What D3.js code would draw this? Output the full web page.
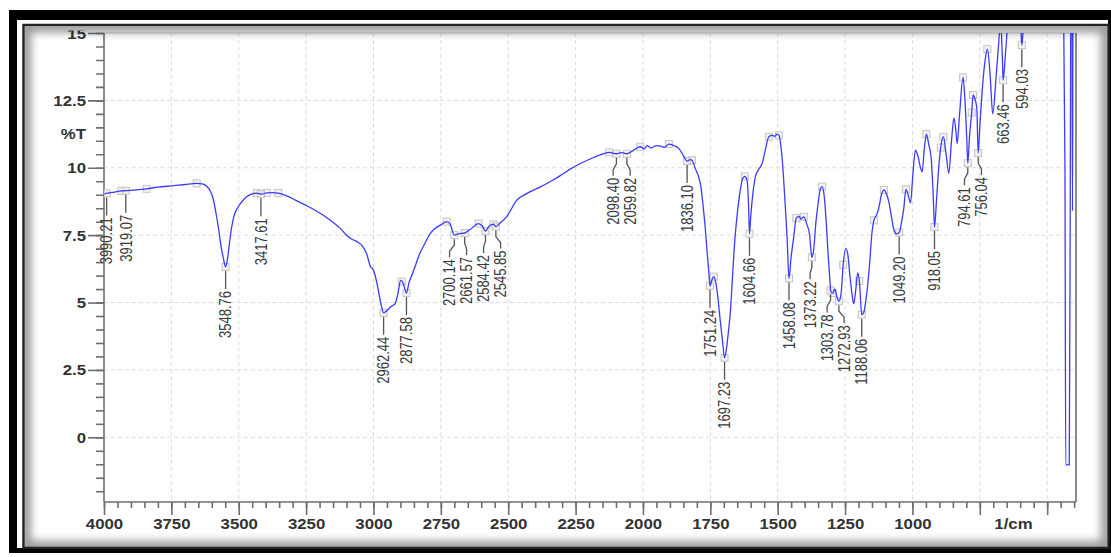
<!DOCTYPE html>
<html>
<head>
<meta charset="utf-8">
<script src="https://cdn.jsdelivr.net/npm/d3@7"></script>
<style>
  html, body { margin: 0; padding: 0; background: #fff; }
  svg { display: block; }
  text { font-family: "Liberation Sans", Arial, sans-serif; }
</style>
</head>
<body>
<svg id="chart" width="1111" height="557"></svg>
<script>
// FTIR transmittance spectrum: [wavenumber (1/cm), %T]
const spectrumPoints = [
  [3998, 9.03], [3990.21, 9.05], [3960, 9.10], [3935, 9.14], [3919.07, 9.15], [3880, 9.18],
  [3842, 9.22], [3800, 9.28], [3750, 9.33], [3700, 9.38], [3656, 9.42], [3635, 9.40],
  [3620, 9.32], [3606, 9.15], [3595, 8.85], [3585, 8.35], [3575, 7.75], [3565, 7.05],
  [3557, 6.65], [3548.76, 6.32], [3542, 6.60], [3535, 7.15], [3527, 7.75], [3518, 8.20],
  [3505, 8.50], [3490, 8.72], [3470, 8.93], [3450, 9.03], [3433, 9.06], [3417.61, 9.02],
  [3396, 9.07], [3375, 9.08], [3353, 9.06], [3320, 8.95], [3290, 8.80], [3260, 8.65],
  [3230, 8.50], [3198, 8.31], [3160, 8.05], [3124, 7.76], [3100, 7.50], [3080, 7.35],
  [3060, 7.25], [3040, 7.08], [3025, 6.80], [3012, 6.35], [3000, 6.20], [2990, 5.85],
  [2980, 5.35], [2970, 4.85], [2962.44, 4.62], [2950, 4.70], [2935, 4.85], [2920, 4.95],
  [2910, 5.30], [2899, 5.82], [2890, 5.72], [2877.58, 5.35], [2868, 5.75], [2858, 6.00],
  [2845, 6.35], [2827, 6.85], [2814, 7.10], [2790, 7.55], [2777, 7.70], [2750, 7.88],
  [2728, 8.00], [2715, 7.90], [2700.14, 7.50], [2685, 7.55], [2661.57, 7.58], [2640, 7.72],
  [2610, 7.93], [2595, 7.82], [2584.42, 7.65], [2570, 7.85], [2555, 7.90], [2545.85, 7.82],
  [2530, 7.95], [2505, 8.20], [2468, 8.80], [2430, 9.05], [2382, 9.28], [2345, 9.48],
  [2308, 9.70], [2270, 9.95], [2234, 10.15], [2195, 10.33], [2159, 10.48], [2125, 10.57],
  [2098.40, 10.52], [2080, 10.56], [2059.82, 10.52], [2040, 10.62], [2010, 10.78], [1995, 10.70],
  [1985, 10.82], [1970, 10.74], [1950, 10.82], [1935, 10.80], [1920, 10.76], [1904, 10.88],
  [1885, 10.82], [1867, 10.72], [1850, 10.45], [1836.10, 10.25], [1825, 10.30], [1818, 10.28],
  [1805, 9.95], [1793, 9.65], [1785, 9.30], [1778, 8.70], [1770, 7.90], [1762, 6.90],
  [1756, 6.20], [1751.24, 5.62], [1744, 5.85], [1737, 5.96], [1730, 5.75], [1722, 5.20],
  [1714, 4.40], [1705, 3.60], [1697.23, 2.95], [1690, 3.30], [1683, 3.90], [1676, 4.60],
  [1668, 5.90], [1660, 7.20], [1650, 8.30], [1640, 9.10], [1630, 9.60], [1622, 9.68],
  [1614, 9.55], [1608, 8.60], [1604.66, 7.55], [1600, 8.20], [1592, 9.05], [1582, 9.70],
  [1570, 9.95], [1558, 10.15], [1545, 10.70], [1533, 11.15], [1520, 11.20], [1510, 11.17],
  [1502, 11.25], [1495, 11.20], [1488, 10.80], [1480, 9.90], [1472, 8.60], [1465, 7.40],
  [1458.08, 5.90], [1450, 6.70], [1441, 7.40], [1431, 8.13], [1420, 8.20], [1414, 8.10],
  [1403, 8.18], [1392, 7.90], [1382, 7.55], [1373.22, 6.68], [1366, 7.00], [1358, 8.00],
  [1351, 8.60], [1342, 9.20], [1335, 9.30], [1328, 9.00], [1320, 8.00], [1313, 6.80],
  [1306, 5.80], [1303.78, 5.45], [1296, 5.35], [1288, 5.50], [1280, 5.20], [1272.93, 5.05],
  [1265, 5.30], [1257, 6.40], [1248, 7.00], [1240, 6.80], [1232, 6.00], [1224, 5.30],
  [1218, 4.95], [1210, 5.50], [1203, 6.10], [1197, 5.80], [1188.06, 4.55], [1180, 4.65],
  [1170, 5.30], [1160, 6.30], [1150, 7.60], [1143, 8.05], [1133, 8.25], [1125, 8.50],
  [1115, 9.00], [1106, 9.18], [1097, 9.05], [1088, 8.75], [1078, 8.20], [1069, 7.70],
  [1060, 7.55], [1049.20, 7.60], [1040, 8.00], [1032, 8.50], [1024, 9.20], [1016, 9.00],
  [1007, 8.70], [998, 9.80], [989, 10.65], [980, 10.45], [970, 10.00], [964, 9.85],
  [956, 10.70], [948, 11.25], [940, 10.90], [930, 10.30], [923, 9.00], [918.05, 7.80],
  [910, 8.90], [900, 10.30], [895, 10.75], [885, 11.15], [875, 10.50], [865, 9.80],
  [855, 11.00], [846, 11.85], [838, 11.30], [834, 10.90], [825, 12.00], [812, 13.35],
  [805, 12.50], [798, 11.00], [794.61, 10.17], [788, 11.20], [780, 12.05], [775, 12.70],
  [768, 12.55], [761, 12.20], [756.04, 10.55], [750, 11.50], [740, 13.00], [730, 14.00],
  [722, 14.40], [712, 13.50], [702, 12.00], [690, 13.30], [680, 14.60], [673, 15.50],
  [666, 14.00], [663.46, 13.25], [655, 14.20], [645, 15.50], [636, 16.00], [620, 16.20],
  [605, 15.80], [598, 15.20], [594.03, 14.55], [588, 15.30], [580, 16.20], [560, 17.0],
  [500, 17.0], [440, 17.0], [434, 10.0], [431, -1.02], [418, -1.02], [414, 10.0],
  [412, 17.0], [408, 17.0], [406, 8.4], [404, 17.0], [393, 17.0]
];

// Picked peaks (wavenumber labels)
const peakLabels = [
  "3990.21", "3919.07", "3548.76", "3417.61", "2962.44", "2877.58", "2700.14", "2661.57",
  "2584.42", "2545.85", "2098.40", "2059.82", "1836.10", "1751.24", "1697.23", "1604.66",
  "1458.08", "1373.22", "1303.78", "1272.93", "1188.06", "1049.20", "918.05", "794.61",
  "756.04", "663.46", "594.03"
];

// Unlabelled picked points (wavenumbers)
const extraMarks = [
  3935, 3842, 3656, 3433, 3396, 3353, 2895, 2728, 2610, 2555, 2125, 2010, 1904, 1818,
  1737, 1622, 1533, 1495, 1431, 1403, 1335, 1296, 1257, 1197, 1143, 1106, 1024, 948,
  895, 885, 812, 780, 775, 722
];

// Axis ticks
const xMajorTicks = [4000, 3750, 3500, 3250, 3000, 2750, 2500, 2250, 2000, 1750, 1500, 1250, 1000, 750, 500];
const xTickLabels = ["4000", "3750", "3500", "3250", "3000", "2750", "2500", "2250", "2000", "1750", "1500", "1250", "1000", "", ""];
const yMajorTicks = [15, 12.5, 10, 7.5, 5, 2.5, 0];
const yTickLabels = ["15", "12.5", "10", "7.5", "5", "2.5", "0"];
const xUnitLabel = "1/cm";
const yUnitLabel = "%T";

const svg = d3.select("#chart");
const W = 1111, H = 557;

// ---- window frame ----
svg.append("rect").attr("width", W).attr("height", H).attr("fill", "#fff");
svg.append("rect").attr("x", 9).attr("y", 10).attr("width", W - 9 + 5).attr("height", 553 - 10).attr("fill", "#000");
svg.append("rect").attr("x", 17).attr("y", 20).attr("width", 1108 - 17).attr("height", 548 - 20).attr("fill", "#fff");
svg.append("rect").attr("x", 23.5).attr("y", 25).attr("width", 1108.5 - 23.5).attr("height", 548 - 25)
  .attr("fill", "#fff").attr("stroke", "#222").attr("stroke-width", 2.5);

const defs = svg.append("defs");
defs.append("clipPath").attr("id", "panelClip")
  .append("rect").attr("x", 25).attr("y", 30.5).attr("width", 1082).attr("height", 516.5);
defs.append("clipPath").attr("id", "shadowClip")
  .append("rect").attr("x", 25).attr("y", 26.5).attr("width", 1082).attr("height", 520.5);
defs.append("filter").attr("id", "soft").attr("x", "-5%").attr("y", "-5%").attr("width", "110%").attr("height", "110%")
  .append("feGaussianBlur").attr("stdDeviation", 4);

const panel = svg.append("g").attr("clip-path", "url(#panelClip)");

// ---- scales ----
const margin = { left: 104, right: 1076, top: 33, bottom: 502 };
const x = d3.scaleLinear().domain([4000, 393]).range([margin.left, margin.right]);
const y = d3.scaleLinear().domain([-2.4, 15]).range([margin.bottom, margin.top]);

defs.append("clipPath").attr("id", "plotClip")
  .append("rect").attr("x", margin.left).attr("y", margin.top)
  .attr("width", margin.right - margin.left).attr("height", margin.bottom - margin.top);

// ---- grid ----
const grid = panel.append("g");
grid.selectAll("line.gx").data(xMajorTicks.slice(1)).join("line")
  .attr("x1", d => x(d)).attr("x2", d => x(d)).attr("y1", margin.top).attr("y2", margin.bottom)
  .attr("stroke", "#dcdcdc").attr("stroke-dasharray", "4,3");
grid.selectAll("line.gy").data(yMajorTicks.slice(1)).join("line")
  .attr("y1", d => y(d)).attr("y2", d => y(d)).attr("x1", margin.left).attr("x2", margin.right)
  .attr("stroke", "#dcdcdc").attr("stroke-dasharray", "4,3");

// ---- axes ----
const axisColor = "#6e6e6e";
const xAxis = d3.axisBottom(x)
  .tickValues(xMajorTicks).tickSize(13)
  .tickFormat((d, i) => xTickLabels[i]);
const xMinor = d3.axisBottom(x).tickValues(d3.range(4000, 399, -50)).tickSize(6).tickFormat("");
const yAxis = d3.axisLeft(y).tickValues(yMajorTicks).tickSize(16).tickFormat((d, i) => yTickLabels[i]);
const yMinor = d3.axisLeft(y).tickValues(d3.range(-2, 15.01, 0.5)).tickSize(8).tickFormat("");

function styleAxis(g) {
  g.select(".domain").remove();
  g.selectAll("line").attr("stroke", axisColor).attr("stroke-width", 1.6);
  g.selectAll("text").attr("fill", "#333").attr("font-size", 14).attr("font-weight", "bold")
    .attr("font-family", "'Liberation Sans', Arial, sans-serif");
}

const gxMinor = panel.append("g").attr("transform", `translate(0,${margin.bottom})`).call(xMinor);
styleAxis(gxMinor);
const gx = panel.append("g").attr("transform", `translate(0,${margin.bottom})`).call(xAxis);
styleAxis(gx);
gx.selectAll(".tick text").each(function () {
  const t = d3.select(this);
  t.attr("y", 0).attr("dy", null)
    .attr("transform", "translate(0,27) scale(1.2,1)");
});

const gyMinor = panel.append("g").attr("transform", `translate(${margin.left},0)`).call(yMinor);
styleAxis(gyMinor);
const gy = panel.append("g").attr("transform", `translate(${margin.left},0)`).call(yAxis);
styleAxis(gy);
gy.selectAll(".tick text").attr("x", 0).attr("dy", null)
  .attr("transform", "translate(-18,5) scale(1.2,1)");

// plot frame lines
panel.append("line").attr("x1", margin.left).attr("x2", margin.right).attr("y1", margin.top).attr("y2", margin.top)
  .attr("stroke", "#cfcfcf").attr("stroke-width", 1.2);
panel.append("line").attr("x1", margin.right).attr("x2", margin.right).attr("y1", margin.top).attr("y2", margin.bottom)
  .attr("stroke", axisColor).attr("stroke-width", 1.6);
panel.append("line").attr("x1", margin.left).attr("x2", margin.left).attr("y1", margin.top).attr("y2", margin.bottom)
  .attr("stroke", axisColor).attr("stroke-width", 1.6);
panel.append("line").attr("x1", margin.left).attr("x2", margin.right).attr("y1", margin.bottom).attr("y2", margin.bottom)
  .attr("stroke", axisColor).attr("stroke-width", 1.6);

// unit labels
panel.append("text").attr("transform", `translate(${x(625)},${margin.bottom + 27}) scale(1.2,1)`)
  .attr("text-anchor", "middle").attr("font-size", 14).attr("font-weight", "bold").attr("fill", "#333")
  .text(xUnitLabel);
panel.append("text").attr("transform", `translate(86,${y(11.25) + 5}) scale(1.2,1)`)
  .attr("text-anchor", "end").attr("font-size", 14).attr("font-weight", "bold").attr("fill", "#333")
  .text(yUnitLabel);

// ---- spectrum ----
const bis = d3.bisector(d => -d[0]).left;
function valueAt(wn) {
  const i = bis(spectrumPoints, -wn);
  if (i <= 0) return spectrumPoints[0][1];
  if (i >= spectrumPoints.length) return spectrumPoints[spectrumPoints.length - 1][1];
  const a = spectrumPoints[i - 1], b = spectrumPoints[i];
  const t = (a[0] - wn) / (a[0] - b[0]);
  return a[1] + t * (b[1] - a[1]);
}

const plot = panel.append("g").attr("clip-path", "url(#plotClip)");

// picked-point markers
const allMarks = extraMarks.concat(peakLabels.map(Number));
plot.selectAll("rect.mk").data(allMarks).join("rect")
  .attr("x", d => x(d) - 3.5).attr("y", d => y(valueAt(d)) - 3.5)
  .attr("width", 7).attr("height", 7)
  .attr("fill", "#eeeeee").attr("fill-opacity", 0.7)
  .attr("stroke", "#c4c4c4").attr("stroke-width", 1);

const line = d3.line().x(d => x(d[0])).y(d => y(d[1])).curve(d3.curveMonotoneX);
plot.append("path").datum(spectrumPoints)
  .attr("d", line).attr("fill", "none")
  .attr("stroke", "#3b3bff").attr("stroke-width", 1.3).attr("stroke-linejoin", "round");

// ---- peak labels with leader lines ----
const labels = peakLabels.map(s => {
  const wn = +s;
  const mx = x(wn), my = y(valueAt(wn));
  return { text: s, mx, my, lx: mx, top: my + 24, bottom: my + 24 + 48 };
}).sort((a, b) => a.mx - b.mx);

// spread crowded labels sideways so they do not overlap
const gap = 17;
let clusters = labels.map(l => ({ items: [l], center: l.mx }));
function place(c) {
  const n = c.items.length;
  c.items.forEach((l, k) => { l.lx = c.center + (k - (n - 1) / 2) * gap; });
}
let changed = true;
while (changed) {
  changed = false;
  clusters.forEach(place);
  for (let i = 1; i < clusters.length; i++) {
    const A = clusters[i - 1], B = clusters[i];
    const a = A.items[A.items.length - 1], b = B.items[0];
    const vOverlap = !(a.bottom < b.top || b.bottom < a.top);
    if (vOverlap && b.lx - a.lx < gap - 0.01) {
      const items = A.items.concat(B.items);
      const center = d3.mean(items, l => l.mx);
      clusters.splice(i - 1, 2, { items, center });
      changed = true;
      break;
    }
  }
}
clusters.forEach(place);

const ann = panel.append("g");
ann.selectAll("path.leader").data(labels).join("path")
  .attr("d", l => {
    if (Math.abs(l.lx - l.mx) < 0.6) return `M${l.mx},${l.my + 4}V${l.my + 22}`;
    return `M${l.mx},${l.my + 4}V${l.my + 10}L${l.lx},${l.my + 16}V${l.my + 22}`;
  })
  .attr("fill", "none").attr("stroke", "#555").attr("stroke-width", 1.3);
ann.selectAll("text.peak").data(labels).join("text")
  .attr("transform", l => `translate(${l.lx},${l.top}) scale(1.25,1) rotate(-90)`)
  .attr("text-anchor", "end").attr("dy", "0.35em")
  .attr("font-size", 13).attr("fill", "#3a3a3a")
  .text(l => l.text);

// ---- inner shadow of the window panel ----
svg.append("g").attr("clip-path", "url(#shadowClip)")
  .append("rect").attr("x", 25).attr("y", 26.5).attr("width", 1082).attr("height", 520.5)
  .attr("fill", "none").attr("stroke", "#000").attr("stroke-opacity", 0.4).attr("stroke-width", 12)
  .attr("filter", "url(#soft)");
</script>
</body>
</html>
